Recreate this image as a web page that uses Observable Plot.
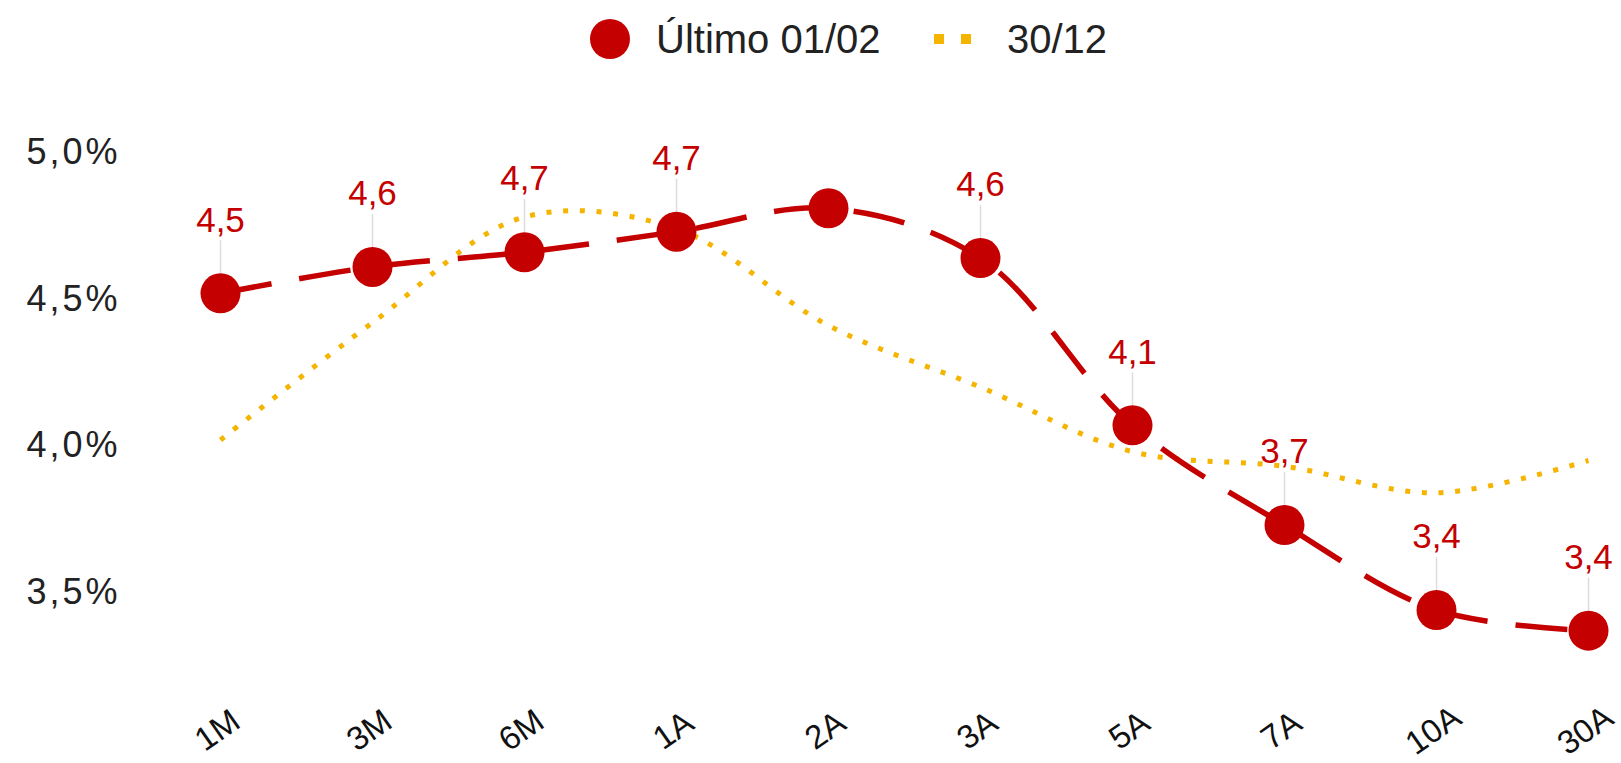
<!DOCTYPE html>
<html>
<head>
<meta charset="utf-8">
<script src="https://cdn.jsdelivr.net/npm/d3@7"></script>
<script src="https://cdn.jsdelivr.net/npm/@observablehq/plot@0.6"></script>
<style>
  body { margin: 0; background: #fff; }
  #legend { position: relative; width: 1621px; height: 76px; font-family: "Liberation Sans", Arial, sans-serif; color: #222; }
  #legend .item { position: absolute; }
  svg [aria-label="y-axis tick label"] text { letter-spacing: 3px; }
  svg [aria-label="xlabels"] text { letter-spacing: 1px; }
  svg [aria-label="datalabels"] text { letter-spacing: 2.5px; }
</style>
</head>
<body>
<div id="legend">
  <div class="item" style="left:590px;top:19px;width:40px;height:40px;border-radius:50%;background:#C40000;"></div>
  <div class="item" style="left:656px;top:17px;font-size:40px;line-height:44px;">Último 01/02</div>
  <svg class="item" style="left:934px;top:34px;" width="50" height="10"><line x1="0" y1="5" x2="46" y2="5" stroke="#F4B400" stroke-width="10" stroke-dasharray="10,17"/></svg>
  <div class="item" style="left:1007px;top:17px;font-size:40px;line-height:44px;">30/12</div>
</div>
<div id="chart"></div>
<script>
const tenors = ["1M","3M","6M","1A","2A","3A","5A","7A","10A","30A"];
const ultimo = [4.52, 4.61, 4.66, 4.73, 4.81, 4.64, 4.07, 3.73, 3.44, 3.37];
const dez30  = [4.02, 4.42, 4.78, 4.74, 4.41, 4.20, 3.98, 3.93, 3.84, 3.95];
const labels = ["4,5","4,6","4,7","4,7","","4,6","4,1","3,7","3,4","3,4"];
const yTicks = [3.5, 4.0, 4.5, 5.0];
const yTickLabels = ["3,5%","4,0%","4,5%","5,0%"];

const red = "#C40000";
const yellow = "#F4B400";

const data = tenors.map((t, i) => ({tenor: t, ultimo: ultimo[i], dez: dez30[i], label: labels[i]}));
const leader = {draw(context) { context.moveTo(0, -20); context.lineTo(0, -53); }};

const chart = Plot.plot({
  width: 1621,
  height: 687,
  marginLeft: 130,
  marginRight: 0,
  marginTop: 0,
  marginBottom: 33,
  x: {type: "point", domain: tenors, range: [218, 1589], padding: 0, axis: null},
  y: {domain: [3.5, 5.0], range: [516, 76], axis: null},
  style: {fontFamily: "'Liberation Sans', Arial, sans-serif", background: "white", overflow: "visible"},
  marks: [
    Plot.axisY(yTicks, {anchor: "left", tickSize: 0, tickPadding: 10, fontSize: 36, fill: "#222",
      tickFormat: d => yTickLabels[yTicks.indexOf(d)]}),
    Plot.text(tenors, {x: d => d, text: d => d, frameAnchor: "bottom", rotate: -35, dx: -3,
      textAnchor: "middle", lineAnchor: "middle", fontSize: 33, fill: "#111", ariaLabel: "xlabels"}),
    Plot.line(data, {x: "tenor", y: "dez", curve: "catmull-rom", stroke: yellow, strokeWidth: 5,
      strokeDasharray: "5,11.7", strokeLinecap: "butt"}),
    Plot.line(data, {x: "tenor", y: "ultimo", curve: "catmull-rom", stroke: red, strokeWidth: 5.5,
      strokeDasharray: "52,28", strokeLinecap: "butt"}),
    Plot.dot(data.filter(d => d.label), {x: "tenor", y: "ultimo", symbol: leader, r: 5,
      fill: "none", stroke: "#dddddd", strokeWidth: 1.5}),
    Plot.dot(data, {x: "tenor", y: "ultimo", r: 20, fill: red}),
    Plot.text(data, {x: "tenor", y: "ultimo", text: "label", dy: -73, fill: red, fontSize: 35, ariaLabel: "datalabels"})
  ]
});
document.getElementById("chart").appendChild(chart);
</script>
</body>
</html>
